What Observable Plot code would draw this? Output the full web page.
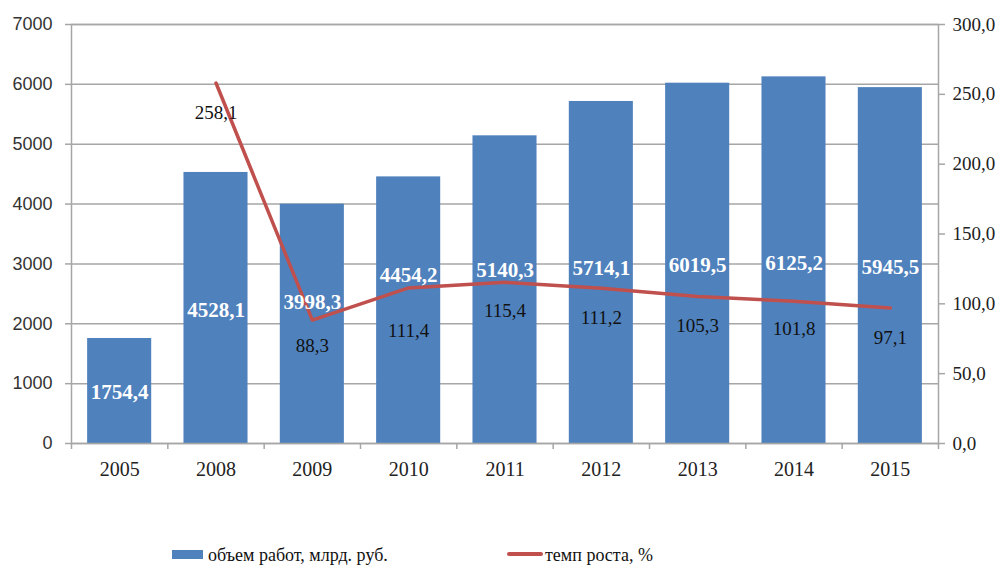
<!DOCTYPE html>
<html>
<head>
<meta charset="utf-8">
<script src="https://cdn.jsdelivr.net/npm/d3@7"></script>
<script src="https://cdn.jsdelivr.net/npm/@observablehq/plot@0.6"></script>
<style>
  html, body { margin: 0; padding: 0; background: #fff; }
  #wrap { width: 1004px; height: 570px; overflow: hidden; }
  #chart svg, #legend svg { display: block; }
</style>
</head>
<body>
<div id="wrap">
  <div id="chart"></div>
  <div id="legend"></div>
</div>
<script>
// ---- data ----
const years = ["2005", "2008", "2009", "2010", "2011", "2012", "2013", "2014", "2015"];
const volume = [1754.4, 4528.1, 3998.3, 4454.2, 5140.3, 5714.1, 6019.5, 6125.2, 5945.5];
const growth = [null, 258.1, 88.3, 111.4, 115.4, 111.2, 105.3, 101.8, 97.1];
const leftTicks = [0, 1000, 2000, 3000, 4000, 5000, 6000, 7000];
const rightTicks = [0, 50, 100, 150, 200, 250, 300];
const seriesNames = ["объем работ, млрд. руб.", "темп роста, %"];

// ---- label placement (layout, in axis units) ----
const barLabelAt = [852, 2222, 2356, 2806, 2890, 2923, 2973, 3007, 2940];
const growthLabelAt = [null, 237, 70.2, 80.9, 95.2, 90.2, 84.5, 82.3, 75.9];

const fmt = v => v.toFixed(1).replace(".", ",");
const LEFT_MAX = 7000, RIGHT_MAX = 300;
const toLeft = v => v * LEFT_MAX / RIGHT_MAX;

const rows = years.map((y, i) => ({
  year: y, volume: volume[i], growth: growth[i],
  barLabelAt: barLabelAt[i], growthLabelAt: growthLabelAt[i]
}));
const lineRows = rows.filter(d => d.growth != null);

const W = 1004, H = 480, ML = 71, MR = 66, MT = 24, MB = 37;
const step = (W - ML - MR) / years.length;
const serif = "Liberation Serif, Times New Roman, serif";
const BLUE = "#4F81BD", RED = "#C0504D", GRID = "#a6a6a6";

const chart = Plot.plot({
  width: W, height: H,
  marginLeft: ML, marginRight: MR, marginTop: MT, marginBottom: MB,
  x: { domain: years, paddingInner: 0.335, paddingOuter: 0.1675, round: false },
  y: { domain: [0, LEFT_MAX] },
  style: { background: "#fff" },
  marks: [
    Plot.gridY(leftTicks, { stroke: GRID, strokeOpacity: 1, strokeWidth: 1.5 }),
    Plot.barY(rows, { x: "year", y: "volume", fill: BLUE }),
    Plot.frame({ stroke: GRID, strokeWidth: 1.5 }),
    // category boundary ticks on the x axis
    Plot.ruleX(years, { x: d => d, y1: 0, y2: -100, dx: -step / 2, stroke: GRID, strokeWidth: 1.5, clip: false }),
    Plot.ruleX([years[years.length - 1]], { x: d => d, y1: 0, y2: -100, dx: step / 2, stroke: GRID, strokeWidth: 1.5, clip: false }),
    Plot.axisY(leftTicks, {
      anchor: "left", tickSize: 6, tickPadding: 13, stroke: GRID, strokeWidth: 1.5,
      fontSize: 18, fontFamily: "Liberation Sans, Arial, sans-serif", fill: "#333",
      tickFormat: d => String(d), label: null
    }),
    Plot.axisY(rightTicks.map(toLeft), {
      anchor: "right", tickSize: 6, tickPadding: 8, stroke: GRID, strokeWidth: 1.5,
      fontSize: 19, fontFamily: serif, fill: "#222",
      tickFormat: d => fmt(d * RIGHT_MAX / LEFT_MAX), label: null
    }),
    Plot.axisX(years, {
      anchor: "bottom", tickSize: 0, tickPadding: 18,
      fontSize: 20, fontFamily: serif, fill: "#222", label: null
    }),
    Plot.line(lineRows, { x: "year", y: d => toLeft(d.growth), stroke: RED, strokeWidth: 3.5 }),
    Plot.text(rows, {
      x: "year", y: "barLabelAt", text: d => fmt(d.volume),
      fill: "#fff", fontWeight: "bold", fontSize: 21, fontFamily: serif,
      textAnchor: "middle", lineAnchor: "middle"
    }),
    Plot.text(lineRows, {
      x: "year", y: d => toLeft(d.growthLabelAt), text: d => fmt(d.growth),
      fill: "#111", fontSize: 19, fontFamily: serif,
      textAnchor: "middle", lineAnchor: "middle"
    })
  ]
});
document.getElementById("chart").appendChild(chart);

// ---- legend (below the plot SVG) ----
const lg = d3.select("#legend").append("svg")
  .attr("width", W).attr("height", 90)
  .attr("font-family", serif).attr("font-size", 18).attr("fill", "#111");
lg.append("rect").attr("x", 172).attr("y", 70).attr("width", 31).attr("height", 9).attr("fill", BLUE);
lg.append("text").attr("x", 208).attr("y", 75).attr("dy", "0.35em").text(seriesNames[0]);
lg.append("line").attr("x1", 509).attr("x2", 541).attr("y1", 74).attr("y2", 74)
  .attr("stroke", RED).attr("stroke-width", 4).attr("stroke-linecap", "round");
lg.append("text").attr("x", 545).attr("y", 75).attr("dy", "0.35em").text(seriesNames[1]);
</script>
</body>
</html>
